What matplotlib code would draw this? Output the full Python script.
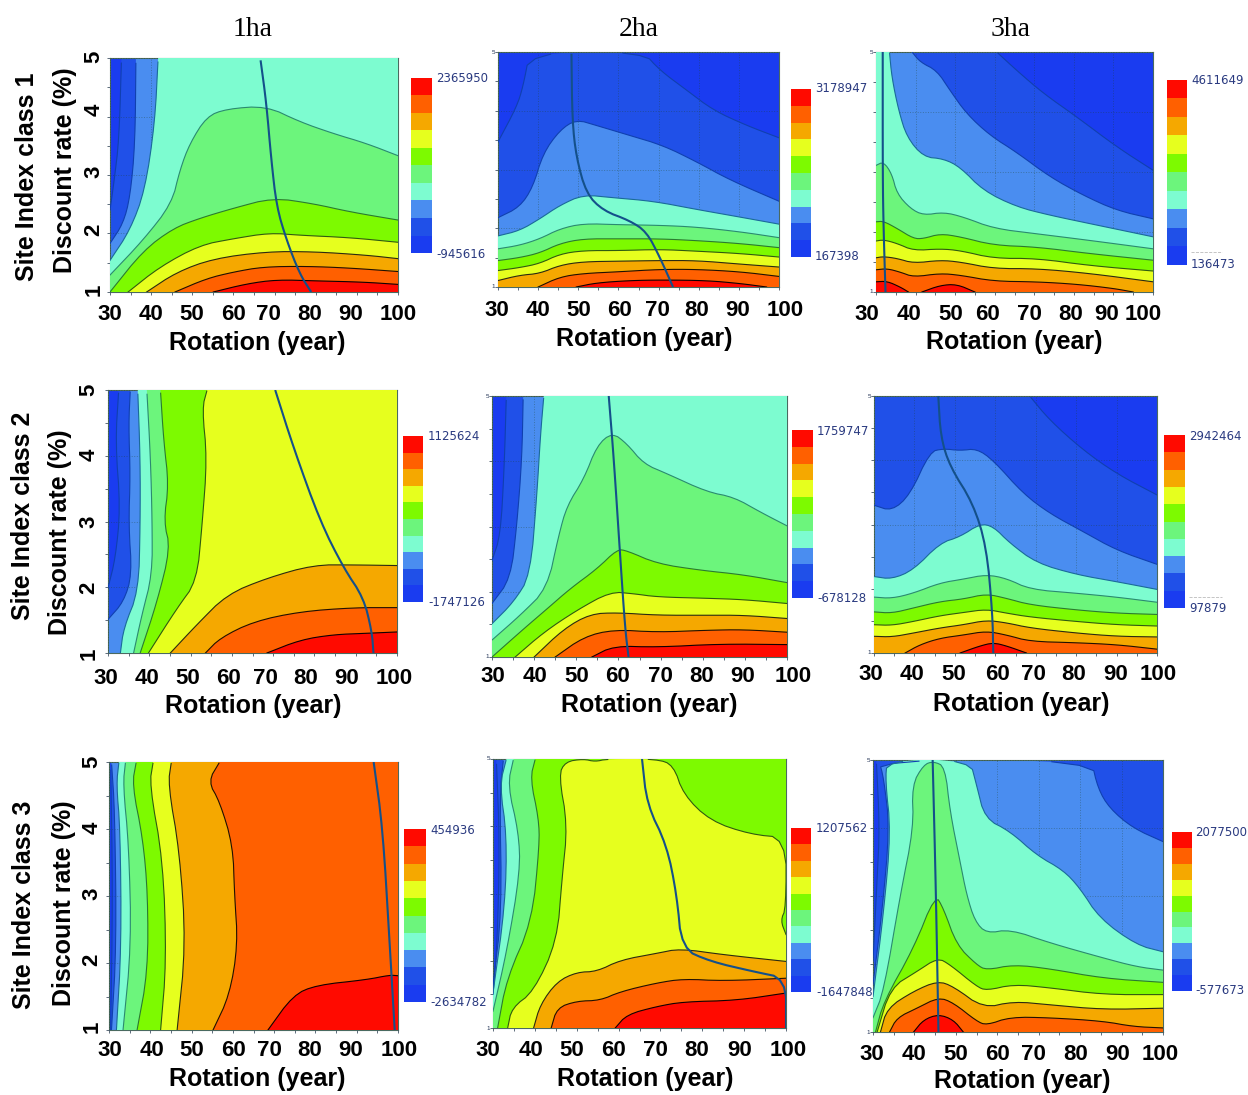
#=================================================================================================================================
import numpy as np
import matplotlib
matplotlib.use("Agg")
import matplotlib.pyplot as plt
from matplotlib.colors import ListedColormap
#=================================================================================================================================
# Chart values. Each contour is (level, points), level i being the edge between colour i and colour i+1.
# Points are (rotation, discount rate) and run with the higher values on their right hand side.
row_titles = ["Site Index class 1", "Site Index class 2", "Site Index class 3"]
col_titles = ["1ha", "2ha", "3ha"]
rotation_ticks = [30, 40, 50, 60, 70, 80, 90, 100]
rate_ticks = [1, 2, 3, 4, 5]
bar_top = ["2365950", "3178947", "4611649", "1125624", "1759747", "2942464", "454936", "1207562", "2077500"]
bar_low = ["-945616", "167398", "136473", "-1747126", "-678128", "97879", "-2634782", "-1647848", "-577673"]

s1_1ha = [
    (0, [(30,2.4),(31,2.9),(32.2,3.6),(32.8,5)]),
    (1, [(30,1.83),(33.2,2.17),(34.9,2.63),(36.1,3.54),(36.3,5)]),
    (2, [(30,1.54),(34.9,2.06),(38.5,2.74),(40.9,3.89),(41.7,5)]),
    (3, [(30,1.29),(38.1,1.89),(45,2.51),(47,3.09),(49.4,3.54),(53.5,4),(58.3,4.13),(68,4.18),(76.1,3.91),(84.2,3.71),(92.3,3.54),(100,3.33)]),
    (4, [(30,1),(38.1,1.71),(45.4,2.09),(51.8,2.26),(59.9,2.43),(69.6,2.61),(79.4,2.51),(88.3,2.37),(100,2.23)]),
    (5, [(34.4,1),(42.1,1.43),(51.8,1.8),(59.9,1.91),(68.8,2.01),(76.1,1.97),(88.3,1.93),(100,1.85)]),
    (6, [(38.9,1),(46.2,1.34),(55.1,1.57),(68,1.69),(79.4,1.69),(92.3,1.63),(100,1.57)]),
    (7, [(45.8,1),(53.5,1.23),(59.9,1.34),(67.2,1.43),(77.7,1.44),(88.3,1.41),(100,1.35)]),
    (8, [(55.1,1),(63.2,1.14),(70.5,1.21),(80.2,1.19),(91.5,1.17),(100,1.13)]),
]
s1_2ha = [
    (0, [(30,3.47),(34.6,4.06),(36.2,4.4),(37.9,5),(66.2,5),(70.3,4.69),(77,4.35),(83.6,4.01),(91.9,3.75),(100,3.54)]),
    (1, [(30,2.18),(35.4,2.36),(38.7,2.7),(41.2,3.27),(45.4,3.67),(49.5,3.85),(54.5,3.75),(62.8,3.58),(71.1,3.41),(79.5,3.13),(87.8,2.82),(100,2.46)]),
    (2, [(30,1.87),(35.4,1.96),(40.4,2.16),(45.4,2.39),(51.2,2.57),(58.7,2.52),(68.7,2.46),(79.5,2.32),(90.3,2.19),(100,2.07)]),
    (3, [(30,1.65),(35.4,1.71),(40.4,1.82),(45.4,1.99),(51.2,2.08),(60.3,2.06),(70.3,2.05),(79.5,2.02),(90.3,1.94),(100,1.84)]),
    (4, [(30,1.45),(35.4,1.5),(40.4,1.58),(45.4,1.74),(51.2,1.82),(60.3,1.82),(70.3,1.82),(79.5,1.79),(90.3,1.74),(100,1.67)]),
    (5, [(30,1.28),(35.4,1.33),(40.4,1.4),(45.4,1.56),(51.2,1.62),(60.3,1.62),(70.3,1.64),(79.5,1.61),(90.3,1.57),(100,1.51)]),
    (6, [(30,1.11),(35.4,1.2),(40.4,1.23),(45.4,1.37),(51.2,1.43),(60.3,1.44),(70.3,1.45),(79.5,1.45),(90.3,1.39),(100,1.34)]),
    (7, [(40,1),(45.4,1.17),(51.2,1.23),(60.3,1.26),(70.3,1.3),(79.5,1.3),(90.3,1.26),(100,1.18)]),
    (8, [(49.5,1),(54.5,1.07),(62.8,1.11),(71.1,1.12),(82,1.11),(90.3,1.06),(96.9,1)]),
]
s1_3ha = [
    (0, [(60.5,5),(65.6,4.69),(72.3,4.31),(80.7,3.92),(90.8,3.42),(100,3.03)]),
    (1, [(39.1,5),(41.2,4.83),(45.4,4.69),(48.7,4.36),(52.9,3.97),(58.8,3.61),(65.5,3.33),(73.9,2.92),(82.4,2.61),(90.8,2.36),(100,2.22)]),
    (2, [(33.4,5),(34,4.58),(35.7,4.03),(37.8,3.58),(42,3.25),(47.1,3.22),(51.3,3.08),(57.1,2.69),(65.5,2.42),(73.9,2.28),(84,2.14),(100,1.92)]),
    (3, [(30,3.11),(31.9,3.17),(34,2.97),(35.3,2.64),(38.7,2.39),(42,2.28),(47.1,2.33),(52.1,2.25),(59.7,2.06),(70.6,1.97),(84,1.86),(100,1.72)]),
    (4, [(30,2.17),(31.9,2.18),(35.3,2.06),(39.5,1.89),(42,1.89),(46.2,1.97),(51.3,1.92),(59.7,1.78),(70.6,1.75),(84,1.64),(100,1.53)]),
    (5, [(30,1.85),(31.9,1.87),(35.3,1.81),(39.5,1.69),(46.2,1.72),(51.3,1.69),(59.7,1.56),(70.6,1.56),(84,1.44),(100,1.35)]),
    (6, [(30,1.57),(31.9,1.59),(35.3,1.56),(39.5,1.48),(46.2,1.53),(51.3,1.5),(59.7,1.39),(70.6,1.39),(84,1.31),(100,1.17)]),
    (7, [(30,1.37),(32.8,1.39),(36.2,1.33),(39.5,1.25),(46.2,1.31),(51.3,1.28),(59.7,1.18),(70.6,1.17),(80.7,1.13),(90,1.06),(95,1)]),
    (8, [(30,1.17),(32.8,1.18),(36.2,1.08),(38.2,1)]),
    (8, [(41.6,1),(46.2,1.11),(50.4,1.13),(55,1)]),
]
s2_1ha = [
    (0, [(30,1.99),(31.8,2.44),(33,3.2),(31.8,4.2),(32.6,5)]),
    (1, [(30,1.51),(33.8,1.78),(35.8,2.19),(35,2.95),(35.4,3.71),(35,4.47),(35.4,5)]),
    (2, [(33,1),(33.8,1.38),(37.4,1.94),(37.8,2.95),(37.8,3.96),(37.2,5)]),
    (3, [(36.2,1),(38.2,1.58),(40.7,2.19),(40.7,2.99),(40.3,3.96),(39.4,5)]),
    (4, [(37.8,1),(41.9,1.78),(45.1,2.59),(43.5,3),(44.7,3.56),(43.5,4.22),(42.7,5)]),
    (5, [(39.8,1),(46.7,1.68),(51.5,2.09),(52.8,2.95),(54,3.96),(52.8,4.72),(54,5)]),
    (6, [(45.1,1),(51.5,1.43),(58.8,1.89),(68.5,2.14),(79.8,2.34),(89.5,2.34),(100,2.33)]),
    (7, [(53.6,1),(57.2,1.23),(65.3,1.48),(76.6,1.63),(89.5,1.69),(100,1.69)]),
    (8, [(68.5,1),(76.6,1.2),(84.6,1.28),(92.7,1.3),(100,1.32)]),
]
s2_2ha = [
    (0, [(30,2.48),(32,2.86),(32.9,3.89),(33.4,5)]),
    (1, [(30,1.82),(34.4,2.2),(35.9,3.02),(37.1,4.04),(37.4,5)]),
    (2, [(30,1.51),(35.1,1.84),(39.1,2.25),(40.7,3.53),(41.5,4.4),(42.3,5)]),
    (3, [(30,1.26),(36.7,1.64),(43.1,2.05),(45.8,2.86),(47.8,3.32),(51.8,3.73),(54.9,4.24),(58.5,4.44),(62,4.27),(66,3.96),(71.5,3.81),(81,3.53),(87.4,3.45),(93.7,3.22),(100,3.01)]),
    (4, [(30,1),(37.5,1.43),(43.1,1.74),(48.6,2.05),(54.9,2.35),(59.7,2.65),(62,2.63),(69.2,2.43),(79.4,2.33),(89.7,2.26),(100,2.14)]),
    (5, [(35.5,1),(42.3,1.38),(50.2,1.72),(58.1,2),(63.6,1.97),(69.2,1.92),(81,1.9),(89.7,1.88),(100,1.82)]),
    (6, [(40,1),(47,1.43),(53.3,1.66),(59.7,1.68),(69.2,1.64),(81,1.64),(89.7,1.64),(100,1.59)]),
    (7, [(45,1),(51.8,1.31),(58.9,1.42),(69.2,1.38),(81,1.41),(89.7,1.42),(100,1.38)]),
    (8, [(53.7,1),(58.9,1.17),(69.2,1.15),(84.2,1.2),(100,1.19)]),
]
s2_3ha = [
    (0, [(68.5,5),(73.5,4.62),(81.7,4.16),(90,3.79),(100,3.46)]),
    (1, [(30,3.3),(34.4,3.21),(38.9,3.46),(43.8,4.13),(47.1,4.18),(51.3,4.15),(55.4,4.18),(59.5,4),(66.9,3.48),(73.5,3.17),(81.7,2.89),(90,2.6),(100,2.38)]),
    (2, [(30,2.19),(34.4,2.15),(39.7,2.29),(46.3,2.71),(51.3,2.81),(56.2,3.01),(59.5,2.97),(63.6,2.71),(70.2,2.4),(80.1,2.22),(90,2.11),(100,1.99)]),
    (3, [(30,1.87),(34.4,1.85),(39.7,1.93),(46.3,2.09),(52.1,2.15),(57.8,2.22),(62.8,2.16),(68.6,1.99),(80.1,1.93),(90,1.87),(100,1.79)]),
    (4, [(30,1.64),(34.4,1.62),(39.7,1.7),(46.3,1.8),(52.1,1.84),(57.8,1.92),(62.8,1.85),(68.6,1.75),(80.1,1.67),(90,1.62),(100,1.6)]),
    (5, [(30,1.44),(34.4,1.43),(39.7,1.49),(46.3,1.58),(52.1,1.63),(57.8,1.68),(62.8,1.62),(68.6,1.56),(80.1,1.49),(90,1.44),(100,1.42)]),
    (6, [(30,1.26),(34.4,1.25),(39.7,1.31),(46.3,1.39),(52.1,1.44),(57.8,1.51),(62.8,1.47),(68.6,1.39),(80.1,1.31),(90,1.26),(100,1.25)]),
    (7, [(37.7,1),(41.4,1.13),(46.3,1.23),(52.1,1.28),(57.8,1.34),(62.8,1.28),(68.6,1.18),(80.1,1.16),(90,1.13),(100,1.06)]),
    (8, [(51.3,1),(56.2,1.11),(59.5,1.16),(62.8,1.11),(67.7,1)]),
]
s3_1ha = [
    (0, [(30.4,1),(30.9,3),(30.4,5)]),
    (1, [(30.6,1),(31.8,2.27),(31.4,4.26),(30.6,5)]),
    (2, [(31.8,1),(33,2.27),(32.7,4.01),(31.8,4.66),(32.4,5)]),
    (3, [(33.4,1),(35.4,2.27),(34.8,3.76),(33.4,4.66),(34,5)]),
    (4, [(36.8,1),(39.4,1.87),(39.4,3.02),(38.2,3.86),(35.6,4.66),(36.6,5)]),
    (5, [(42.5,1),(43.9,2.02),(43.1,3.52),(39.8,4.66),(40.7,5)]),
    (6, [(46.5,1),(48.6,2.27),(47.1,3.66),(44.3,4.66),(45.1,5)]),
    (7, [(55.2,1),(59.2,1.52),(61.2,2.27),(60.4,3.02),(60,3.76),(56.8,4.41),(54,4.71),(56.8,5)]),
    (8, [(68.5,1),(74.6,1.52),(80.2,1.67),(92.3,1.75),(98,1.82),(100,1.81)]),
]
s3_2ha = [
    (0, [(30,1.5),(31,2.24),(31.6,3.72),(30.8,5)]),
    (1, [(30,1.64),(32.1,2.73),(31.6,4.47),(32.5,5)]),
    (2, [(30,1.52),(32.9,2.83),(33.3,3.87),(31.6,4.61),(33.2,5)]),
    (3, [(30,1.25),(33.3,2.14),(36.5,3.33),(36.1,3.92),(33.5,4.61),(34.9,5)]),
    (4, [(31.1,1),(33.3,1.74),(39.3,2.58),(41.1,3.72),(40.9,4.12),(38.9,4.71),(40.1,5)]),
    (5, [(33.5,1),(34.5,1.3),(39.7,1.54),(45.3,2.29),(46.5,3.23),(47.8,4.02),(45.7,4.76),(47.3,4.96),(51.6,5),(54.4,4.96),(57.2,5),(69.1,5),(73.1,4.91),(75.5,4.47),(81.9,4.08),(91.4,3.88),(100,3.83),(100,2.78),(98.7,2.6),(100,2.39)]),
    (6, [(39.7,1),(41.3,1.35),(45.3,1.69),(50,1.83),(54.8,1.84),(60.4,2.01),(69.1,2.11),(74.7,2.18),(85,2.09),(100,1.99)]),
    (7, [(43.9,1),(45.3,1.3),(50,1.4),(55.6,1.41),(60.4,1.54),(69.1,1.67),(75.5,1.73),(85,1.7),(100,1.74)]),
    (8, [(59.2,1),(62,1.2),(69.1,1.32),(75.5,1.39),(88.2,1.41),(100,1.52)]),
]
s3_3ha = [
    (0, [(30,2.04),(31,3.26),(31.6,4),(30.8,5)]),
    (1, [(30,1.7),(32.2,2.77),(34,4),(32.6,4.73),(31.4,5),(82.7,5),(84.3,4.58),(87.1,4.29),(92.7,4),(100,3.8)]),
    (2, [(30,1.52),(32.6,2.77),(34.3,3.95),(33,4.68),(33.4,5),(53.4,5),(55,4.63),(57,4.14),(63.1,3.95),(69.5,3.6),(75.9,3.38),(79.9,3.12),(84.7,2.67),(93.6,2.28),(100,2.18)]),
    (3, [(30,1.21),(32.6,1.6),(36.6,3.02),(39.8,4),(39.4,4.63),(42.2,4.93),(44.6,4.98),(47.4,4.9),(48.6,4.24),(51,3.51),(52.6,3.02),(54.6,2.63),(57.4,2.45),(63.1,2.51),(72.7,2.31),(85.5,2.09),(93.6,1.96),(100,1.91)]),
    (4, [(30.6,1),(32.6,1.45),(39.8,2.23),(45,3.02),(47,2.82),(50.2,2.28),(55,1.99),(57.4,1.91),(63.9,1.99),(72.7,1.93),(85.5,1.79),(100,1.73)]),
    (5, [(31,1),(34.2,1.65),(40.6,1.89),(45.6,2.09),(48.6,1.99),(55,1.67),(57.4,1.61),(63.9,1.7),(72.7,1.65),(85.5,1.55),(100,1.55)]),
    (6, [(31.8,1),(33.4,1.35),(39.8,1.6),(45.6,1.75),(49.4,1.67),(56.6,1.35),(63.9,1.45),(72.7,1.4),(85.5,1.33),(100,1.35)]),
    (7, [(34,1),(35.8,1.21),(40.6,1.35),(45.8,1.51),(49.4,1.43),(55,1.16),(57.4,1.1),(63.1,1.22),(72.7,1.21),(85.5,1.16),(92.8,1.08),(100,1.06)]),
    (8, [(39.8,1),(42.2,1.18),(45.8,1.26),(49.4,1.18),(51.8,1)]),
]
all_contours = [s1_1ha, s1_2ha, s1_3ha, s2_1ha, s2_2ha, s2_3ha, s3_1ha, s3_2ha, s3_3ha]

# The line of the best rotation for every discount rate
best_rotation = [
    [(66.6,4.96),(68,4.23),(69.2,3.26),(70.5,2.46),(72.9,1.89),(76.1,1.31),(78.9,1)],
    [(48.3,4.97),(48.5,3.84),(49.5,3.21),(52,2.59),(56.2,2.3),(62.8,2.13),(67,1.94),(70.3,1.51),(73.6,1)],
    [(31.7,5),(31.7,2.92),(31.9,2.08),(32.4,1)],
    [(70.5,5),(75,4.11),(81.4,3),(87.1,2.29),(91.9,1.84),(93.9,1.33),(94.3,1)],
    [(57.7,5),(58.9,4.04),(60.5,2.46),(61.6,1.43),(62.4,1)],
    [(45.9,5),(46.5,4.36),(48.8,3.9),(54.5,3.33),(57.8,2.66),(59.3,1.62),(59.5,1)],
    [(94.1,5),(96.3,4.01),(98,2.27),(99.2,1)],
    [(65.6,5),(66.8,4.32),(71.5,3.72),(73.9,2.98),(75.1,2.18),(81.9,1.99),(92.2,1.84),(100,1.74),(100,1)],
    [(44.4,5),(45.2,3.02),(45.8,1)],
]
#=================================================================================================================================
# Layout in pixels of the 1248x1095 picture
W, H = 1248, 1095
level_colors = ["#1a3cf0", "#2050e8", "#4a8df0", "#7dfcd0", "#6cf57c", "#7dfa00", "#e6ff1e", "#f5a800", "#ff6000", "#ff0a00"]
line_colors = ["#1040b0", "#1040b0", "#1a6a9a", "#2a8a70", "#2a7a30", "#2f5a10", "#2a2a10", "#201000", "#100000", "#100000"]

axes_box = [(110,398,58,292), (498,779,52,287), (876,1153,52,292),
            (108,397,390,653), (492,787,396,657), (874,1157,396,653),
            (109,398,762,1030), (493,786,759,1028), (873,1163,760,1032)]
bar_box = [(411,432,78,253), (791,811,89,257), (1167,1187,80,265),
           (403,423,436,602), (792,813,430,598), (1164,1185,435,608),
           (404,426,829,1002), (791,811,828,992), (1172,1192,832,991)]
bar_text = [(436,78,254), (815,89,257), (1191,81,265),
            (428,437,602), (817,432,599), (1189,436,608),
            (430,830,1003), (816,828,993), (1195,832,991)]
xlabel_x = [[110,151,192,233,268,310,351,398], [497,538,579,620,657,697,738,785], [867,909,951,987,1029,1071,1107,1143],
            [106,147,188,229,265,306,347,394], [493,535,577,618,660,702,743,793], [871,912,954,997,1033,1074,1116,1158],
            [110,152,192,233,269,310,351,399], [488,531,572,614,655,697,740,788], [872,914,956,998,1033,1076,1118,1160]]
xlabel_y = [314, 310, 314, 679, 676, 675, 1051, 1051, 1054]
rotation_pos = [(257,343), (644,339), (1014,342), (253,706), (649,705), (1021,704), (257,1079), (645,1079), (1022,1081)]
ylabel_y = [[290,230,172,110,57], [654,588,522,455,390], [1027,960,894,828,762]]
ylabel_x = [94, 89, 92]
discount_pos = [(65,170), (60,532), (64,903)]
site_pos = [(27,177), (23,516), (24,905)]
title_x = [253, 639, 1011]
bar_dash = {2: (1191,1222,252), 5: (1189,1222,597)}
#=================================================================================================================================
plt.rcParams['font.family'] = ['Liberation Sans', 'DejaVu Sans']
fig = plt.figure(figsize=(W / 100, H / 100), dpi=100)

def px_text(x, y, s, **kw):
    kw.setdefault('ha', 'center')
    kw.setdefault('va', 'center')
    fig.text(x / W, 1 - y / H, s, **kw)

def px_axes(box):
    left, right, top, bottom = box
    return fig.add_axes([left / W, 1 - bottom / H, (right - left) / W, (bottom - top) / H])

def smooth(points):
    # Two rounds of corner cutting so the contour is not a visible polyline, the ends stay where they are
    pts = np.array(points, dtype=float)
    for it in range(2):
        q = pts[:-1] * 0.75 + pts[1:] * 0.25
        r = pts[:-1] * 0.25 + pts[1:] * 0.75
        pts = np.vstack([pts[0], np.column_stack([q, r]).reshape(-1, 2), pts[-1]])
    return pts

def edge_pos(p):
    # Position of a point along the plot border, clockwise from the lower left corner
    if p[0] == 30:
        return p[1] - 1
    if p[1] == 5:
        return 4 + (p[0] - 30) / 70 * 4
    if p[0] == 100:
        return 8 + 5 - p[1]
    return 12 + (100 - p[0]) / 70 * 4

def closed_region(pts):
    # Walk clockwise along the border from the end of the contour back to its start
    corners = [(0, (30, 1)), (4, (30, 5)), (8, (100, 5)), (12, (100, 1)), (16, (30, 1)), (20, (30, 5)), (24, (100, 5)), (28, (100, 1))]
    t_end = edge_pos(pts[-1])
    t_start = edge_pos(pts[0])
    if t_start <= t_end:
        t_start += 16
    extra = [c for t, c in corners if t_end < t < t_start]
    return np.vstack([pts] + [np.array(extra).reshape(-1, 2)])
#=================================================================================================================================
for i in range(9):
    ax = px_axes(axes_box[i])
    ax.set_xlim(30, 100)
    ax.set_ylim(1, 5)
    ax.set_facecolor(level_colors[0])

    for level, points in all_contours[i]:
        pts = smooth(points)
        region = closed_region(pts)
        ax.fill(region[:, 0], region[:, 1], color=level_colors[level + 1], lw=0, zorder=level + 1)
    for level, points in all_contours[i]:
        pts = smooth(points)
        # no contour stroke where a contour runs along the top border
        ax.plot(pts[:, 0], np.where(pts[:, 1] >= 4.995, np.nan, pts[:, 1]), color=line_colors[level], lw=0.8, zorder=20)

    ax.set_xticks(rotation_ticks)
    ax.set_yticks(rate_ticks)
    ax.set_xticks(np.arange(30, 101, 5), minor=True)
    ax.set_yticks(np.arange(1, 5.1, 0.5), minor=True)
    ax.tick_params(which='both', length=2, width=0.6, color='#445566', labelbottom=False, labelleft=False)
    ax.grid(True, which='major', color='#204020', alpha=0.35, lw=0.7, ls=':', zorder=15)
    ax.set_axisbelow(False)
    for spine in ax.spines.values():
        spine.set_color('#4a6a60')
        spine.set_linewidth(0.8)

    best = smooth(best_rotation[i])
    ax.plot(best[:, 0], best[:, 1], color='#14508a', lw=1.5, zorder=30, solid_capstyle='butt')

    # Colour key of the panel
    bar = px_axes(bar_box[i])
    bar.pcolormesh(np.arange(len(level_colors))[:, None], cmap=ListedColormap(level_colors))
    bar.set_axis_off()
    tx, ty, by = bar_text[i]
    px_text(tx, ty, bar_top[i], ha='left', color='#2a3a80', fontsize=8.5, family='DejaVu Sans')
    px_text(tx, by, bar_low[i], ha='left', color='#2a3a80', fontsize=8.5, family='DejaVu Sans')
    if i in bar_dash:
        x0, x1, y0 = bar_dash[i]
        fig.add_artist(plt.Line2D([x0 / W, x1 / W], [1 - y0 / H, 1 - y0 / H], color='#bbbbbb', lw=0.6, ls='--'))

    for x, tick in zip(xlabel_x[i], rotation_ticks):
        px_text(x, xlabel_y[i], str(tick), fontsize=16, fontweight='bold')
    px_text(rotation_pos[i][0], rotation_pos[i][1], "Rotation (year)", fontsize=18, fontweight='bold')

    if i % 3 == 0:
        r = i // 3
        for y, tick in zip(ylabel_y[r], rate_ticks):
            px_text(ylabel_x[r], y, str(tick), fontsize=16, fontweight='bold', rotation=90)
        px_text(discount_pos[r][0], discount_pos[r][1], "Discount rate (%)", fontsize=18, fontweight='bold', rotation=90)
        px_text(site_pos[r][0], site_pos[r][1], row_titles[r], fontsize=18, fontweight='bold', rotation=90)
    else:
        left, right, top, bottom = axes_box[i]
        px_text(left - 5, top, "5", fontsize=4.5, color='#223355')
        px_text(left - 5, bottom, "1", fontsize=4.5, color='#223355')

for x, title in zip(title_x, col_titles):
    px_text(x, 29, title, fontsize=20, family='Liberation Serif')

fig.savefig("out.png", dpi=100)
#=================================================================================================================================
